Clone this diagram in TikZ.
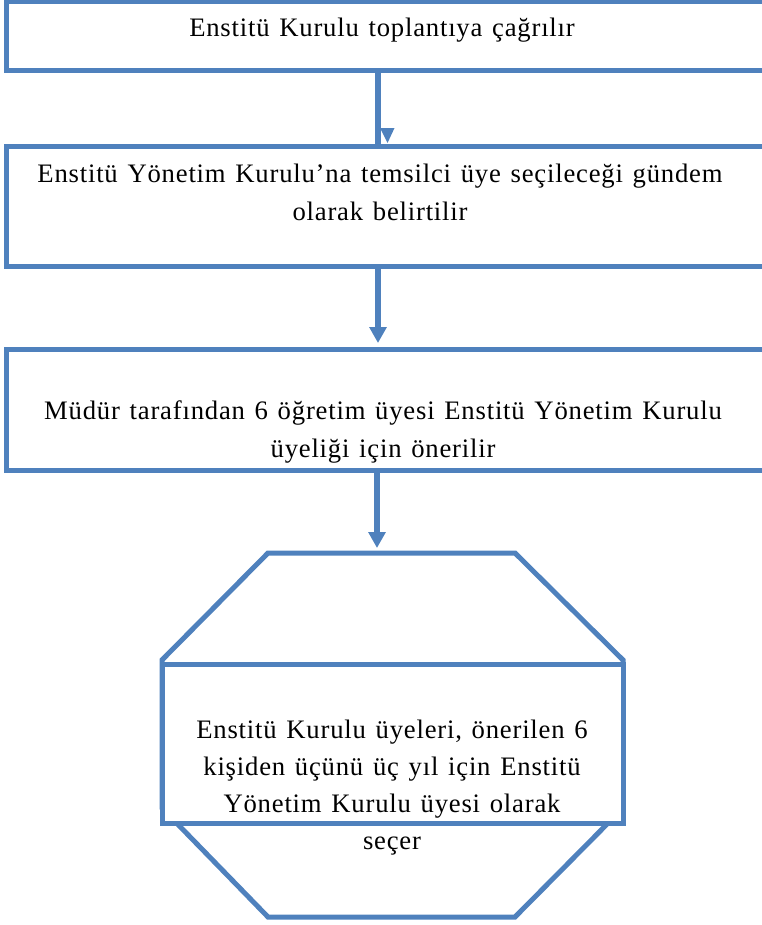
\documentclass[tikz,border=0pt]{standalone}
\usepackage{fontspec}
\setmainfont{Liberation Serif}[LetterSpace=3,WordSpace=1.3]
\usetikzlibrary{arrows.meta}
\definecolor{flowblue}{RGB}{79,129,189}
\begin{document}
\begin{tikzpicture}[x=0.75pt,y=-0.75pt,
  stepbox/.style={draw=flowblue, line width=3.75pt, fill=white, inner sep=0pt, outer sep=0pt},
  steptext/.style={inner sep=0pt, font=\fontsize{20pt}{28.5pt}\selectfont, align=center},
  link/.style={draw=flowblue, line width=4.2pt},
  flow/.style={link, -{Triangle[length=12pt,width=12.5pt]}}]
\useasboundingbox (0,0) rectangle (762,925);
\clip (0,0) rectangle (762,925);

% process boxes (they run past the right margin)
\node[stepbox, anchor=north west, minimum width=595.5pt, minimum height=51.75pt] (b1) at (6,1) {};
\node[stepbox, anchor=north west, minimum width=595.5pt, minimum height=90pt] (b2) at (6,146) {};
\node[stepbox, anchor=north west, minimum width=595.5pt, minimum height=90.75pt] (b3) at (6,349) {};

% octagonal decision frame with its inner box
\draw[flowblue, line width=3.75pt, line join=miter]
  (268,553) -- (515,553) -- (623,660) -- (623,808) -- (515,917)
  -- (268,917) -- (162,808) -- (162,660) -- cycle;
\coordinate (octtop) at (377,553);
\node[stepbox, anchor=north west, minimum width=345.75pt, minimum height=119.25pt] (b4) at (162,664) {};

% connectors
\coordinate (ax) at (378,0);
\coordinate (bx) at (377,0);
\draw[link] (b1.south -| ax) -- (b2.north -| ax);
\fill[flowblue] (380,128) -- (394.5,128) -- (387.5,143) -- cycle;
\draw[flow, shorten >=4.5pt] (b2.south -| ax) -- (b3.north -| ax);
\draw[flow, shorten >=3.75pt] (b3.south -| bx) -- (octtop);

% texts (base anchor = baseline of the last line)
\node[steptext, anchor=base] (t1) at (382,36) {Enstitü Kurulu toplantıya çağrılır};
\node[steptext, anchor=base] (t2) at (380,220) {Enstitü Yönetim Kurulu’na temsilci üye seçileceği gündem\\olarak belirtilir};
\node[steptext, anchor=base] (t3) at (383,457) {Müdür tarafından 6 öğretim üyesi Enstitü Yönetim Kurulu\\üyeliği için önerilir};
\node[steptext, anchor=base, font=\fontsize{20pt}{27.75pt}\selectfont] (t4) at (392,849)
  {Enstitü Kurulu üyeleri, önerilen 6\\kişiden üçünü üç yıl için Enstitü\\Yönetim Kurulu üyesi olarak\\seçer};
\end{tikzpicture}
\end{document}
